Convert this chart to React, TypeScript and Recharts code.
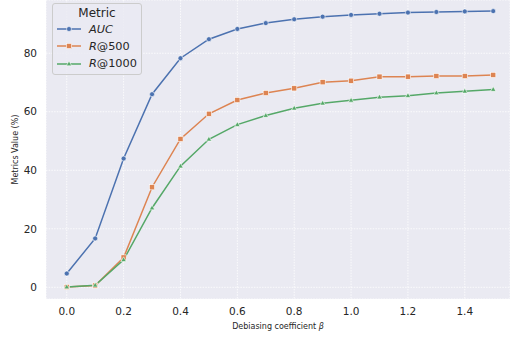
import React from "react";
import { LineChart, Line, XAxis, YAxis, CartesianGrid } from "recharts";

// debiasing coefficient beta on the x axis
const betas = [0.0, 0.1, 0.2, 0.3, 0.4, 0.5, 0.6, 0.7, 0.8, 0.9, 1.0, 1.1, 1.2, 1.3, 1.4, 1.5];

// metric values in percent
const auc = [4.7, 16.7, 44.0, 66.0, 78.3, 84.8, 88.3, 90.3, 91.6, 92.5, 93.1, 93.5, 93.9, 94.1, 94.3, 94.4];
const r500 = [0.1, 0.6, 10.2, 34.2, 50.7, 59.3, 64.0, 66.4, 68.0, 70.1, 70.6, 72.0, 72.0, 72.2, 72.2, 72.6];
const r1000 = [0.1, 0.7, 9.4, 27.1, 41.4, 50.6, 55.6, 58.7, 61.2, 62.9, 63.9, 65.0, 65.5, 66.4, 67.0, 67.6];

const xTicks = [0, 0.2, 0.4, 0.6, 0.8, 1.0, 1.2, 1.4];
const yTicks = [0, 20, 40, 60, 80];

const BLUE = "#4c72b0";
const ORANGE = "#dd8452";
const GREEN = "#55a868";
const TEXT = "#262626";
const FONT = "'DejaVu Sans', sans-serif";

const data = betas.map((b, i) => ({ beta: b, auc: auc[i], r500: r500[i], r1000: r1000[i] }));

type Shape = "circle" | "square" | "triangle";

function Marker({ cx, cy, color, shape }: { cx: number; cy: number; color: string; shape: Shape }) {
    if (cx == null || cy == null) return null;
    if (shape === "square") {
        return <rect x={cx - 2.6} y={cy - 2.6} width={5.2} height={5.2} fill={color} stroke="#fff" strokeWidth={0.6} />;
    }
    if (shape === "triangle") {
        const r = 3;
        const pts = `${cx},${cy - r} ${cx - r * 0.9},${cy + r * 0.6} ${cx + r * 0.9},${cy + r * 0.6}`;
        return <polygon points={pts} fill={color} stroke="#fff" strokeWidth={0.6} />;
    }
    return <circle cx={cx} cy={cy} r={2.5} fill={color} stroke="#fff" strokeWidth={0.6} />;
}

const series = [
    { key: "auc", name: "AUC", color: BLUE, shape: "circle" as Shape },
    { key: "r500", name: "R@500", color: ORANGE, shape: "square" as Shape },
    { key: "r1000", name: "R@1000", color: GREEN, shape: "triangle" as Shape },
];

// matplotlib-style legend box in the upper left corner
function LegendBox() {
    return (
        <div
            style={{
                position: "absolute",
                left: 52,
                top: 3,
                width: 90,
                height: 72,
                border: "1px solid #cccccc",
                borderRadius: 3,
                background: "rgba(234,234,242,0.8)",
                fontFamily: FONT,
                color: TEXT,
                boxSizing: "border-box",
            }}
        >
            <div style={{ textAlign: "center", fontSize: 12, lineHeight: "13px", paddingTop: 2.5, marginBottom: 1 }}>Metric</div>
            {series.map((s) => (
                <div key={s.key} style={{ display: "flex", alignItems: "center", height: 17.3 }}>
                    <svg width={30} height={10} style={{ marginLeft: 3 }}>
                        <line x1={1} y1={5} x2={25} y2={5} stroke={s.color} strokeWidth={1.5} />
                        <Marker cx={13} cy={5} color={s.color} shape={s.shape} />
                    </svg>
                    <span style={{ fontSize: 11.3, marginLeft: 3 }}>
                        {s.name === "AUC" ? (
                            <i>AUC</i>
                        ) : (
                            <>
                                <i>R</i>
                                {s.name.slice(1)}
                            </>
                        )}
                    </span>
                </div>
            ))}
        </div>
    );
}

export default function App() {
    return (
        <div style={{ position: "absolute", left: 0, top: 0, width: 510, height: 340, background: "#fff" }}>
            <LineChart width={510} height={340} data={data} margin={{ top: 0, right: 0, left: 0, bottom: 0 }}>
                <CartesianGrid fill="#eaeaf2" stroke="#ffffff" strokeWidth={0.8} strokeDasharray="1.5 1.2" />
                <XAxis
                    dataKey="beta"
                    type="number"
                    domain={[-0.073, 1.559]}
                    ticks={xTicks}
                    tickFormatter={(v: number) => v.toFixed(1)}
                    axisLine={false}
                    tickLine={false}
                    height={41}
                    tickMargin={3}
                    tick={{ fill: TEXT, fontSize: 10.5, fontFamily: FONT }}
                    allowDataOverflow
                    label={{
                        content: () => (
                            <text x={278} y={329} textAnchor="middle" fill={TEXT} fontSize={8} fontFamily={FONT}>
                                Debiasing coefficient <tspan fontStyle="italic">β</tspan>
                            </text>
                        ),
                    }}
                />
                <YAxis
                    type="number"
                    domain={[-4.0, 98.2]}
                    ticks={yTicks}
                    axisLine={false}
                    tickLine={false}
                    width={46}
                    tickMargin={3}
                    tick={{ fill: TEXT, fontSize: 10.5, fontFamily: FONT }}
                    allowDataOverflow
                    label={{
                        content: () => (
                            <text
                                x={15}
                                y={149.5}
                                textAnchor="middle"
                                dominantBaseline="middle"
                                transform="rotate(-90 15 149.5)"
                                fill={TEXT}
                                fontSize={8}
                                fontFamily={FONT}
                            >
                                Metrics Value (%)
                            </text>
                        ),
                    }}
                />
                {series.map((s) => (
                    <Line
                        key={s.key}
                        dataKey={s.key}
                        name={s.name}
                        stroke={s.color}
                        strokeWidth={1.5}
                        isAnimationActive={false}
                        dot={(p: any) => <Marker key={`${s.key}-${p.index}`} cx={p.cx} cy={p.cy} color={s.color} shape={s.shape} />}
                        activeDot={false}
                    />
                ))}
            </LineChart>
            <LegendBox />
        </div>
    );
}
